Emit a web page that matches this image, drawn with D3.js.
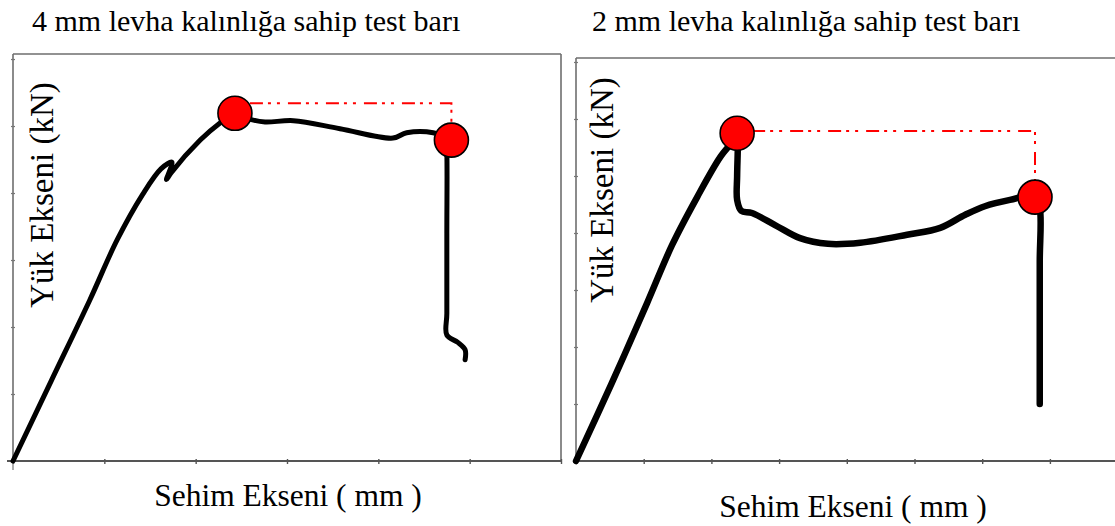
<!DOCTYPE html>
<html>
<head>
<meta charset="utf-8">
<script src="https://cdn.jsdelivr.net/npm/d3@7/dist/d3.min.js"></script>
<style>
  html, body { margin: 0; padding: 0; background: #fff; }
  svg { display: block; }
  text { font-family: "Liberation Serif", "Times New Roman", serif; fill: #000; }
</style>
</head>
<body>
<svg id="chart" width="1115" height="526"></svg>
<script>
// ---------- data ----------
const titles = ["4 mm levha kalınlığa sahip test barı", "2 mm levha kalınlığa sahip test barı"];
const yLabel = "Yük Ekseni (kN)";
const xLabel = "Sehim Ekseni ( mm )";

// 4 mm specimen: deflection vs load
const curve4x = [0, 0.42, 0.84, 1.14, 1.42, 1.62, 1.74, 1.68, 1.73, 2.05, 2.27, 2.43, 2.60, 2.76, 3.07, 3.58, 4.16, 4.31, 4.60, 4.74, 4.75, 4.75, 4.75, 4.75, 4.87, 4.95, 4.95];
const curve4y = [0, 1.20, 2.40, 3.30, 3.98, 4.36, 4.46, 4.20, 4.30, 4.79, 5.05, 5.19, 5.10, 5.06, 5.08, 4.96, 4.82, 4.90, 4.90, 4.82, 4.60, 3.40, 2.20, 1.88, 1.77, 1.66, 1.51];
const marks4x = [2.43, 4.80];
const marks4y = [5.19, 4.79];
const guide4Level = 5.34;

// 2 mm specimen
const curve2x = [0, 0.53, 1.05, 1.42, 1.79, 2.13, 2.33, 2.38, 2.39, 2.38, 2.38, 2.44, 2.60, 2.94, 3.31, 3.72, 4.20, 4.89, 5.38, 5.75, 6.04, 6.41, 6.78, 6.85, 6.85, 6.85, 6.85];
const curve2y = [0, 1.37, 2.77, 3.79, 4.63, 5.33, 5.63, 5.75, 5.63, 5.00, 4.58, 4.39, 4.35, 4.14, 3.91, 3.81, 3.83, 3.97, 4.09, 4.32, 4.47, 4.58, 4.65, 4.45, 3.50, 2.00, 1.00];
const marks2x = [2.38, 6.78];
const marks2y = [5.75, 4.63];
const guide2Level = 5.79;

const xTicks4 = [0, 1, 2, 3, 4, 5, 6];
const yTicks4 = [0, 1, 2, 3, 4, 5, 6];
const xTicks2 = [0, 1, 2, 3, 4, 5, 6, 7];
const yTicks2 = [0, 1, 2, 3, 4, 5, 6, 7];

// ---------- drawing ----------
const svg = d3.select("#chart");

const panels = [
  {
    cx: curve4x, cy: curve4y, mx: marks4x, my: marks4y, guide: guide4Level,
    x: d3.scaleLinear().domain([0, 6]).range([13, 561]),
    y: d3.scaleLinear().domain([0, 6.075]).range([461, 54]),
    xt: xTicks4, yt: yTicks4, right: true, lw: 5,
    title: titles[0], titleX: 32, titleY: 31,
    yl: { x: 53, y: 195 }, xl: { x: 288, y: 506 }
  },
  {
    cx: curve2x, cy: curve2y, mx: marks2x, my: marks2y, guide: guide2Level,
    x: d3.scaleLinear().domain([0, 8]).range([576, 1117.6]),
    y: d3.scaleLinear().domain([0, 7.07]).range([461, 58]),
    xt: xTicks2, yt: yTicks2, right: false, lw: 6.5,
    title: titles[1], titleX: 592, titleY: 31,
    yl: { x: 613, y: 190 }, xl: { x: 853, y: 517 }
  }
];

panels.forEach((p, i) => {
  const g = svg.append("g");
  const [x0, x1] = p.x.range();
  const [y0, y1] = p.y.range();
  const xr = p.right ? x1 : 1115;

  // frame
  const frame = g.append("g").attr("stroke", "#6e6e6e").attr("stroke-width", 1.6).attr("fill", "none");
  frame.append("line").attr("x1", x0).attr("x2", xr).attr("y1", y1).attr("y2", y1);
  frame.append("line").attr("x1", x0).attr("x2", x0).attr("y1", y1).attr("y2", y0);
  if (p.right) frame.append("line").attr("x1", x1).attr("x2", x1).attr("y1", y1).attr("y2", y0);

  // axes
  const xAxis = g.append("g").attr("transform", `translate(0,${y0 - 2})`)
    .call(d3.axisBottom(p.x).tickValues(p.xt).tickSize(5).tickFormat(""));
  xAxis.select(".domain").remove();
  xAxis.selectAll(".tick line").attr("stroke", "#555").attr("stroke-width", 1.4);
  g.append("line").attr("x1", p.right ? x0 - 6 : x0).attr("x2", xr).attr("y1", y0).attr("y2", y0)
    .attr("stroke", "#555").attr("stroke-width", 1.8);
  if (p.right) {
    g.append("line").attr("x1", x0).attr("x2", x0).attr("y1", y0).attr("y2", y0 + 9)
      .attr("stroke", "#777").attr("stroke-width", 1.2);
  }
  const yAxis = g.append("g").attr("transform", `translate(${x0 + 2},0)`)
    .call(d3.axisLeft(p.y).tickValues(p.yt).tickSize(4).tickFormat(""));
  yAxis.select(".domain").remove();
  yAxis.selectAll(".tick line").attr("stroke", "#777").attr("stroke-width", 1.2);

  // curve
  const pts = p.cx.map((v, k) => [v, p.cy[k]]);
  const line = d3.line().x(d => p.x(d[0])).y(d => p.y(d[1])).curve(d3.curveCatmullRom.alpha(0.5));
  g.append("path").datum(pts).attr("d", line)
    .attr("fill", "none").attr("stroke", "#000").attr("stroke-width", p.lw)
    .attr("stroke-linejoin", "round").attr("stroke-linecap", "round");

  // red guide (dash-dot-dot)
  const gx0 = p.x(p.mx[0]) + 15, gx1 = p.x(p.mx[1]);
  const gy = p.y(p.guide);
  const gyEnd = p.y(p.my[1]) - 17;
  g.append("path")
    .attr("d", `M${gx0},${gy}H${gx1}V${gyEnd}`)
    .attr("fill", "none").attr("stroke", "#ff0000").attr("stroke-width", 2)
    .attr("stroke-dasharray", "13,5,3,6,3,8");

  // markers
  g.selectAll("circle.mk").data(p.mx.map((v, k) => [v, p.my[k]])).join("circle")
    .attr("class", "mk")
    .attr("cx", d => p.x(d[0])).attr("cy", d => p.y(d[1])).attr("r", 17)
    .attr("fill", "#ff0000").attr("stroke", "#000").attr("stroke-width", 1.6);

  // texts
  g.append("text").attr("x", p.titleX).attr("y", p.titleY)
    .attr("font-size", 30).text(p.title);
  g.append("text").attr("transform", `translate(${p.yl.x},${p.yl.y}) rotate(-90)`)
    .attr("text-anchor", "middle").attr("font-size", 33).text(yLabel);
  g.append("text").attr("x", p.xl.x).attr("y", p.xl.y)
    .attr("text-anchor", "middle").attr("font-size", 31.5).text(xLabel);
});
</script>
</body>
</html>
